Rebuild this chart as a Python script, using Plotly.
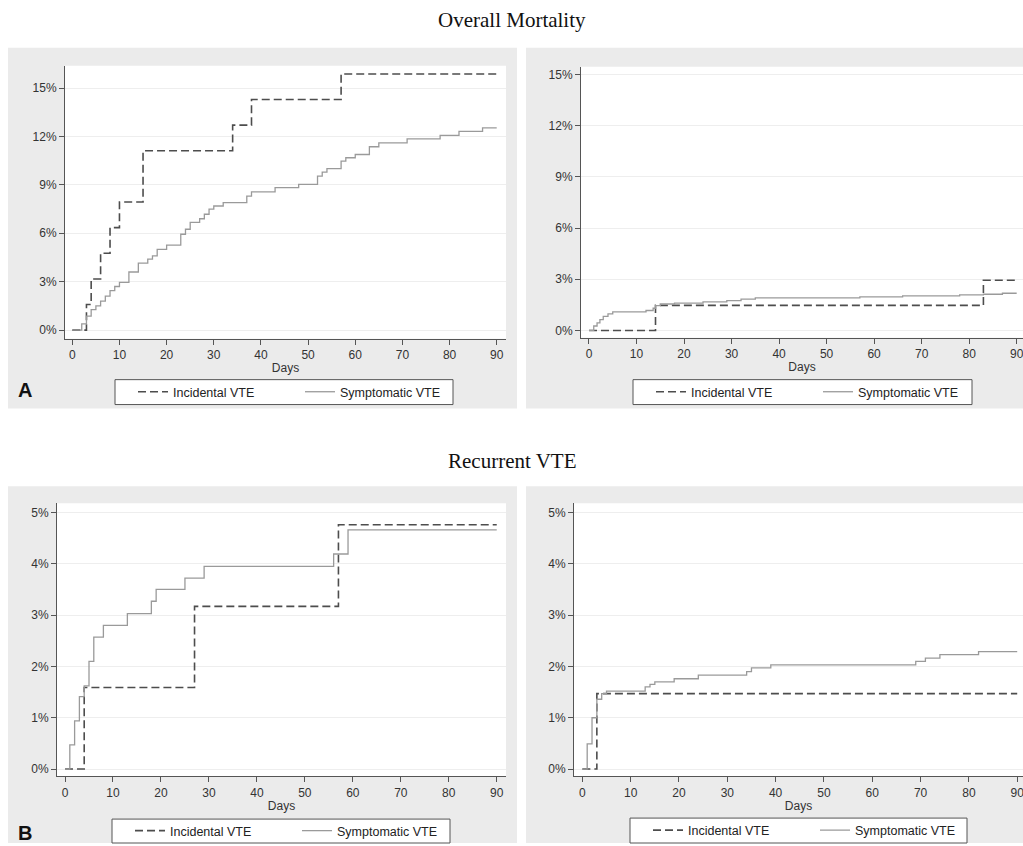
import plotly.graph_objects as go

W, H = 1023, 846

# ---------------- data (days, cumulative incidence %) ----------------
# Overall mortality, panel A (left)
mortA_inc_days = [0, 3, 4, 6, 8, 10, 15, 34, 38, 57, 90]
mortA_inc_vals = [0, 1.59, 3.17, 4.76, 6.35, 7.94, 11.11, 12.70, 14.29, 15.87, 15.87]
mortA_sym_days = [0, 2, 3, 4, 5, 6, 7, 8, 9, 10, 12, 14, 16, 17, 18, 20, 23, 24, 25, 27,
                  28, 29, 30, 32, 37, 38, 43, 48, 52, 53, 54, 57, 58, 60, 63, 65, 71, 78, 82, 87, 90]
mortA_sym_vals = [0, 0.39, 0.86, 1.27, 1.5, 1.8, 2.1, 2.44, 2.7, 2.96, 3.6, 4.15, 4.4, 4.6, 5.0, 5.27,
                  5.94, 6.25, 6.67, 6.9, 7.18, 7.49, 7.69, 7.9, 8.3, 8.56, 8.83, 9.03, 9.54, 9.79, 10.0,
                  10.47, 10.68, 10.88, 11.36, 11.6, 11.85, 12.07, 12.32, 12.53, 12.53]
# Overall mortality, right
mortB_inc_days = [0, 14, 83, 90]
mortB_inc_vals = [0, 1.47, 2.94, 2.94]
mortB_sym_days = [0, 1, 1.7, 2.3, 3, 4, 5, 12, 13.5, 14, 15, 18, 24, 29, 32, 35, 57, 66, 78, 83, 87, 90]
mortB_sym_vals = [0, 0.26, 0.45, 0.64, 0.82, 0.97, 1.09, 1.17, 1.3, 1.46, 1.55, 1.6, 1.68, 1.75, 1.83,
                  1.91, 1.97, 2.03, 2.08, 2.12, 2.18, 2.18]
# Recurrent VTE, panel B (left)
recA_inc_days = [0, 4, 27, 57, 90]
recA_inc_vals = [0, 1.59, 3.17, 4.76, 4.76]
recA_sym_days = [0, 1, 2, 3, 4, 5, 6, 8, 13, 18, 19, 25, 29, 56, 59, 90]
recA_sym_vals = [0, 0.47, 0.94, 1.41, 1.62, 2.1, 2.57, 2.8, 3.03, 3.27, 3.5, 3.72, 3.95, 4.19, 4.66, 4.66]
# Recurrent VTE, right
recB_inc_days = [0, 3, 90]
recB_inc_vals = [0, 1.47, 1.47]
recB_sym_days = [0, 1, 2, 3, 4, 5, 13, 14, 15, 19, 24, 34, 35, 39, 69, 71, 74, 82, 90]
recB_sym_vals = [0, 0.49, 1.0, 1.36, 1.47, 1.52, 1.6, 1.65, 1.7, 1.76, 1.83, 1.9, 1.97, 2.03, 2.1,
                 2.16, 2.23, 2.29, 2.29]

x_ticks = [0, 10, 20, 30, 40, 50, 60, 70, 80, 90]
mort_ticks = [0, 3, 6, 9, 12, 15]
rec_ticks = [0, 1, 2, 3, 4, 5]
series_names = ["Incidental VTE", "Symptomatic VTE"]
titles = ["Overall Mortality", "Recurrent VTE"]
panel_letters = ["A", "B"]

# ---------------- layout helpers ----------------
def fx(px):
    return px / W

def fy(py):
    return 1 - py / H

FONT = "Liberation Sans, Arial, Helvetica, sans-serif"
DASH_COLOR = "#4d4d4d"
SOLID_COLOR = "#9a9a9a"
PANEL_BG = "#ebebeb"

panels = [
    dict(inc=(mortA_inc_days, mortA_inc_vals), sym=(mortA_sym_days, mortA_sym_vals),
         xd=(65, 506), yd=(66, 340), xr=[-1.55, 91.97], yr=[-0.54, 16.38], yt=mort_ticks,
         bg=(8, 48, 517, 410), leg=(115, 381, 453, 406)),
    dict(inc=(mortB_inc_days, mortB_inc_vals), sym=(mortB_sym_days, mortB_sym_vals),
         xd=(581, 1023), yd=(67, 339), xr=[-1.68, 91.33], yr=[-0.43, 15.45], yt=mort_ticks,
         bg=(526, 48, 1023, 410), leg=(633, 381, 972, 406)),
    dict(inc=(recA_inc_days, recA_inc_vals), sym=(recA_sym_days, recA_sym_vals),
         xd=(57, 506), yd=(505, 779), xr=[-1.67, 91.93], yr=[-0.14, 5.18], yt=rec_ticks,
         bg=(8, 488, 517, 846), leg=(112, 822, 450, 846)),
    dict(inc=(recB_inc_days, recB_inc_vals), sym=(recB_sym_days, recB_sym_vals),
         xd=(574, 1023), yd=(505, 779), xr=[-1.73, 91.2], yr=[-0.14, 5.18], yt=rec_ticks,
         bg=(526, 488, 1023, 846), leg=(630, 821, 967, 846)),
]

fig = go.Figure()
shapes = []
layout = dict(
    width=W, height=H, margin=dict(l=0, r=0, t=0, b=0),
    paper_bgcolor="white", plot_bgcolor="rgba(0,0,0,0)",
    font=dict(family=FONT, size=12, color="#333333"),
    showlegend=True,
)

for i, p in enumerate(panels):
    n = i + 1
    xa = "x" if n == 1 else f"x{n}"
    ya = "y" if n == 1 else f"y{n}"
    leg = "legend" if n == 1 else f"legend{n}"

    # gray graph region and white plot region
    bx0, by0, bx1, by1 = p["bg"]
    shapes.append(dict(type="rect", xref="paper", yref="paper", layer="below",
                       x0=fx(bx0), x1=fx(bx1), y0=fy(by1), y1=fy(by0),
                       fillcolor=PANEL_BG, line=dict(width=0)))
    shapes.append(dict(type="rect", xref="paper", yref="paper", layer="below",
                       x0=fx(p["xd"][0]), x1=fx(p["xd"][1]), y0=fy(p["yd"][1]), y1=fy(p["yd"][0]),
                       fillcolor="white", line=dict(width=0)))
    # legend box
    lx0, ly0, lx1, ly1 = p["leg"]
    shapes.append(dict(type="rect", xref="paper", yref="paper", layer="below",
                       x0=fx(lx0), x1=fx(lx1), y0=fy(ly1), y1=fy(ly0),
                       fillcolor="white", line=dict(width=1, color="#555555")))

    fig.add_trace(go.Scatter(x=p["inc"][0], y=p["inc"][1], mode="lines", line_shape="hv",
                             name=series_names[0], xaxis=xa, yaxis=ya, legend=leg,
                             line=dict(color=DASH_COLOR, width=1.6, dash="8px,4px"),
                             hoverinfo="skip"))
    fig.add_trace(go.Scatter(x=p["sym"][0], y=p["sym"][1], mode="lines", line_shape="hv",
                             name=series_names[1], xaxis=xa, yaxis=ya, legend=leg,
                             line=dict(color=SOLID_COLOR, width=1.3),
                             hoverinfo="skip"))

    xkey = "xaxis" if n == 1 else f"xaxis{n}"
    ykey = "yaxis" if n == 1 else f"yaxis{n}"
    layout[xkey] = dict(
        domain=[fx(p["xd"][0]), fx(p["xd"][1])], range=p["xr"], anchor=ya,
        tickvals=x_ticks, ticks="outside", ticklen=5, tickcolor="#555555",
        showgrid=False, zeroline=False, showline=True, linecolor="#555555", linewidth=1,
        tickfont=dict(size=12, color="#333333"), ticklabeloverflow="allow",
        title=dict(text="Days", font=dict(size=12, color="#333333"), standoff=2),
        fixedrange=True,
    )
    layout[ykey] = dict(
        domain=[fy(p["yd"][1]), fy(p["yd"][0])], range=p["yr"], anchor=xa,
        tickvals=p["yt"], ticktext=[f"{t}%" for t in p["yt"]],
        ticks="outside", ticklen=5, tickcolor="#555555",
        showgrid=True, gridcolor="#eeeeee", gridwidth=1, zeroline=False,
        showline=True, linecolor="#555555", linewidth=1,
        tickfont=dict(size=12, color="#333333"), fixedrange=True,
    )
    lcy = (ly0 + ly1) / 2
    layout[leg] = dict(
        x=fx(lx0 + 18), y=fy(lcy), xanchor="left", yanchor="middle",
        orientation="h", bgcolor="rgba(0,0,0,0)", borderwidth=0,
        entrywidth=122, entrywidthmode="pixels",
        font=dict(size=12.5, color="#222222", family=FONT),
    )

annotations = [
    dict(text=titles[0], x=0.5, y=fy(20), xref="paper", yref="paper", showarrow=False,
         xanchor="center", yanchor="middle",
         font=dict(family="Liberation Serif, Times New Roman, serif", size=21, color="#111111")),
    dict(text=titles[1], x=0.5, y=fy(463), xref="paper", yref="paper", showarrow=False,
         xanchor="center", yanchor="middle",
         font=dict(family="Liberation Serif, Times New Roman, serif", size=21, color="#111111")),
    dict(text=f"<b>{panel_letters[0]}</b>", x=fx(16), y=fy(391), xref="paper", yref="paper",
         showarrow=False, xanchor="left", yanchor="middle",
         font=dict(family=FONT, size=20, color="#111111")),
    dict(text=f"<b>{panel_letters[1]}</b>", x=fx(16), y=fy(836), xref="paper", yref="paper",
         showarrow=False, xanchor="left", yanchor="middle",
         font=dict(family=FONT, size=20, color="#111111")),
]
layout["shapes"] = shapes
layout["annotations"] = annotations
fig.update_layout(**layout)

fig.write_html("out.html", post_script="document.body.style.margin='0';",
               config={"displayModeBar": False})
